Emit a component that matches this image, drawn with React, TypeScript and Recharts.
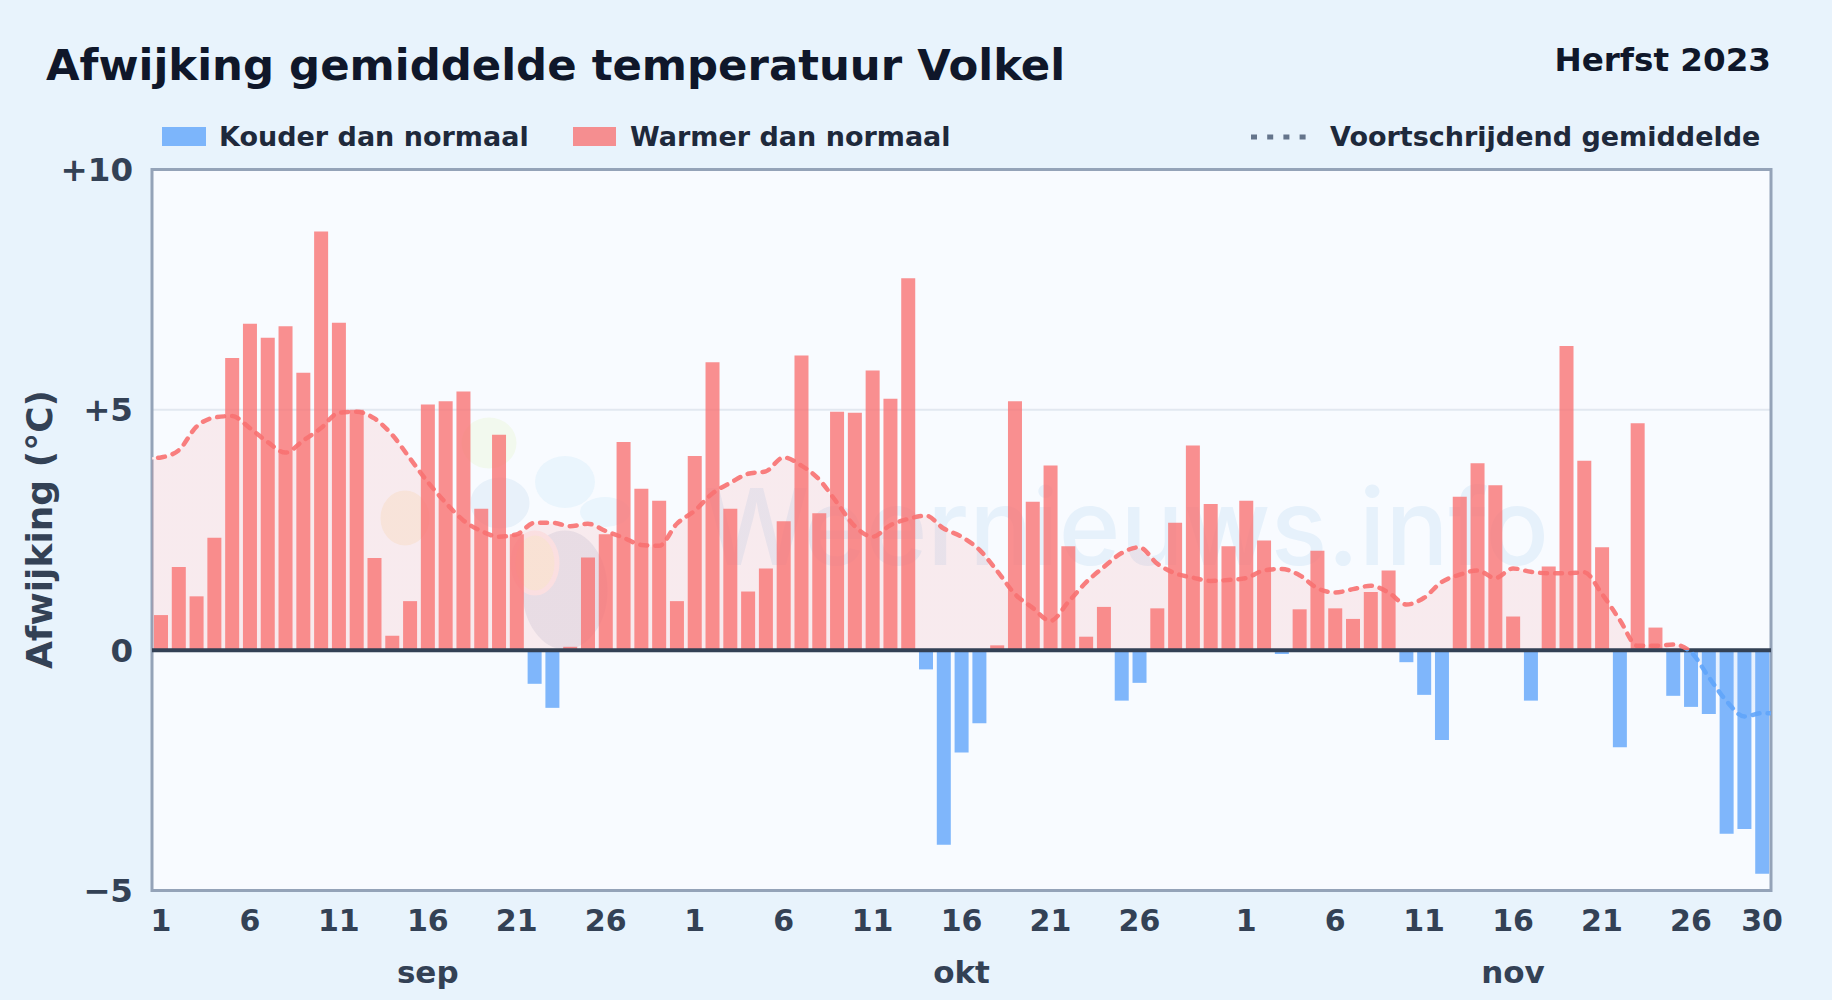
import { ComposedChart, Area, Bar, Line, XAxis, YAxis, CartesianGrid, ReferenceLine } from 'recharts';

const MONTHS = ['sep', 'okt', 'nov'];
const MONTH_LENGTHS = [30, 31, 30];

// afwijking per dag (°C)
const sepDeviation = [
  0.73, 1.73, 1.12, 2.34, 6.08, 6.79, 6.5, 6.74, 5.77, 8.71,
  6.81, 5.0, 1.92, 0.3, 1.02, 5.11, 5.18, 5.38, 2.94, 4.48,
  2.41, -0.7, -1.2, 0.07, 1.93, 2.41, 4.33, 3.36, 3.11, 1.02,
];
const oktDeviation = [
  4.04, 5.99, 2.94, 1.22, 1.7, 2.68, 6.13, 2.85, 4.96, 4.94,
  5.82, 5.23, 7.74, -0.4, -4.05, -2.13, -1.52, 0.1, 5.18, 3.09,
  3.84, 2.16, 0.28, 0.9, -1.05, -0.68, 0.87, 2.65, 4.26, 3.04, 2.16,
];
const novDeviation = [
  3.11, 2.28, -0.08, 0.85, 2.07, 0.87, 0.65, 1.21, 1.66, -0.25,
  -0.93, -1.87, 3.19, 3.89, 3.43, 0.7, -1.05, 1.74, 6.33, 3.94,
  2.14, -2.02, 4.72, 0.47, -0.95, -1.18, -1.33, -3.82, -3.72, -4.65,
];

// voortschrijdend gemiddelde
const sepAverage = [
  4.01, 4.16, 4.65, 4.84, 4.87, 4.62, 4.33, 4.11, 4.36, 4.62,
  4.94, 4.96, 4.82, 4.48, 3.99, 3.5, 3.07, 2.7, 2.48, 2.36,
  2.41, 2.65, 2.65, 2.58, 2.63, 2.48, 2.34, 2.19, 2.17, 2.63,
];
const oktAverage = [
  2.9, 3.26, 3.48, 3.67, 3.72, 4.01, 3.84, 3.55, 3.07, 2.58,
  2.36, 2.6, 2.73, 2.8, 2.53, 2.36, 2.09, 1.65, 1.17, 0.88,
  0.61, 1.0, 1.41, 1.73, 2.02, 2.14, 1.8, 1.6, 1.51, 1.44, 1.46,
];
const novAverage = [
  1.5, 1.66, 1.69, 1.56, 1.29, 1.2, 1.27, 1.34, 1.2, 0.95,
  1.09, 1.42, 1.57, 1.66, 1.5, 1.7, 1.63, 1.6, 1.6, 1.62,
  1.17, 0.63, 0.09, 0.09, 0.12, -0.04, -0.56, -1.06, -1.38, -1.31,
];
// de lijn loopt door tot de rand van het vlak
const averageBefore = 3.98;
const averageAfter = -1.31;

const deviations = [...sepDeviation, ...oktDeviation, ...novDeviation];
const averages = [...sepAverage, ...oktAverage, ...novAverage];

const yTicks = [-5, 0, 5, 10];
const dayTicks = [
  1, 6, 11, 16, 21, 26, 31, 36, 41, 46, 51, 56, 62, 67, 72, 77, 82, 87, 91,
];
const monthTicks = [16, 46, 77];

const dayLabel = (day: number) => {
  let rest = day;
  for (const length of MONTH_LENGTHS) {
    if (rest <= length) return String(rest);
    rest -= length;
  }
  return '';
};

const monthLabel = (day: number) => MONTHS[monthTicks.indexOf(day)] ?? '';
const valueLabel = (v: number) => (v > 0 ? `+${v}` : v < 0 ? `\u2212${Math.abs(v)}` : '0');

const rows: any[] = [
  { day: 0, warm: null, cold: null, average: averageBefore },
  ...deviations.map((d, i) => ({
    day: i + 1,
    warm: d >= 0 ? d : null,
    cold: d < 0 ? d : null,
    average: averages[i],
  })),
  { day: 92, warm: null, cold: null, average: averageAfter },
];

const maxAvg = Math.max(...averages);
const minAvg = Math.min(...averages);
const zeroOffset = maxAvg / (maxAvg - minAvg);

const RED = 'rgb(248,113,113)';
const BLUE = 'rgb(96,165,250)';
const FONT = '"DejaVu Sans", sans-serif';
const PLOT = { left: 152, top: 169.5, right: 1771, bottom: 890.5 };

const pageText = (left: number, top: number, size: number, color: string) => ({
  position: 'absolute' as const,
  left,
  top,
  fontSize: size,
  lineHeight: `${size}px`,
  fontWeight: 700,
  color,
  whiteSpace: 'nowrap' as const,
});

function Watermark() {
  const halo = { stroke: '#f8fbff', strokeWidth: 5 };
  return (
    <g>
      <ellipse cx={489} cy={443} rx={30} ry={28} fill="#f2f9ee" {...halo} />
      <ellipse cx={405} cy={518} rx={27} ry={30} fill="#f8f3e8" {...halo} />
      <ellipse cx={500} cy={503} rx={32} ry={28} fill="#e8f1fa" {...halo} />
      <ellipse cx={605} cy={512} rx={25} ry={15} fill="#eaf5fd" />
      <ellipse cx={565} cy={482} rx={30} ry={26} fill="#eaf5fd" />
      <ellipse cx={565} cy={590} rx={45} ry={62} fill="#e6ebf4" {...halo} />
      <ellipse cx={535} cy={563} rx={22} ry={30} fill="#f9f1e2" stroke="#fbeef0" strokeWidth={5} />
      <text
        x={704}
        y={565}
        fontFamily="Inter, sans-serif"
        fontSize={106}
        fontWeight={500}
        textLength={845}
        lengthAdjust="spacingAndGlyphs"
        fill="#e6f1fb"
      >
        Weernieuws.info
      </text>
    </g>
  );
}

function PlotFrame() {
  return (
    <rect
      x={PLOT.left}
      y={PLOT.top}
      width={PLOT.right - PLOT.left}
      height={PLOT.bottom - PLOT.top}
      fill="none"
      stroke="#94a3b8"
      strokeWidth={3}
    />
  );
}

export default function App() {
  return (
    <div
      style={{
        position: 'absolute',
        left: 0,
        top: 0,
        width: 1832,
        height: 1000,
        background: '#e8f3fc',
        fontFamily: FONT,
        overflow: 'hidden',
      }}
    >
      <div style={pageText(46, 44, 43.4, '#0f172a')}>Afwijking gemiddelde temperatuur Volkel</div>
      <div style={{ ...pageText(0, 44, 32.6, '#0f172a'), left: 'auto', right: 61 }}>Herfst 2023</div>

      <div style={{ position: 'absolute', left: 162, top: 127, width: 44, height: 19, background: BLUE, opacity: 0.8 }} />
      <div style={pageText(219, 123, 27, '#1e293b')}>Kouder dan normaal</div>
      <div style={{ position: 'absolute', left: 573, top: 127, width: 43, height: 19, background: RED, opacity: 0.78 }} />
      <div style={pageText(630, 123, 27, '#1e293b')}>Warmer dan normaal</div>
      <svg style={{ position: 'absolute', left: 1250, top: 130 }} width={60} height={14}>
        <line x1={1} y1={7} x2={58} y2={7} stroke="#64748b" strokeWidth={5} strokeDasharray="6 10.2" />
      </svg>
      <div style={pageText(1330, 123, 27, '#1e293b')}>Voortschrijdend gemiddelde</div>

      <ComposedChart
        width={1832}
        height={1000}
        data={rows}
        stackOffset="sign"
        margin={{ top: PLOT.top, right: 1832 - PLOT.right, left: 52, bottom: 0 }}
        style={{ position: 'absolute', left: 0, top: 0 }}
      >
        <defs>
          <linearGradient id="avgStroke" x1="0" y1="0" x2="0" y2="1">
            <stop offset={zeroOffset} stopColor={RED} />
            <stop offset={zeroOffset} stopColor={BLUE} />
          </linearGradient>
          <linearGradient id="avgFill" x1="0" y1="0" x2="0" y2="1">
            <stop offset={zeroOffset} stopColor={RED} stopOpacity={0.12} />
            <stop offset={zeroOffset} stopColor={BLUE} stopOpacity={0.12} />
          </linearGradient>
        </defs>
        <CartesianGrid vertical={false} fill="#f8fbff" stroke="#e2e8f0" strokeWidth={2} />
        <Watermark />
        <XAxis
          type="number"
          dataKey="day"
          domain={[0.5, 91.5]}
          allowDataOverflow
          ticks={dayTicks}
          tickFormatter={dayLabel}
          interval={0}
          height={60}
          axisLine={false}
          tickLine={false}
          tickMargin={13}
          tick={{ fill: '#334155', fontSize: 30, fontWeight: 700, fontFamily: FONT }}
        />
        <XAxis
          xAxisId="month"
          type="number"
          dataKey="day"
          domain={[0.5, 91.5]}
          allowDataOverflow
          ticks={monthTicks}
          tickFormatter={monthLabel}
          interval={0}
          height={49.5}
          axisLine={false}
          tickLine={false}
          tickMargin={4}
          tick={{ fill: '#334155', fontSize: 31, fontWeight: 700, fontFamily: FONT }}
        />
        <YAxis
          type="number"
          domain={[-5, 10]}
          ticks={yTicks}
          tickFormatter={valueLabel}
          width={100}
          interval={0}
          axisLine={false}
          tickLine={false}
          tickMargin={13}
          tick={{ fill: '#334155', fontSize: 32.5, fontWeight: 700, fontFamily: FONT }}
          label={{
            value: 'Afwijking (°C)',
            angle: -90,
            position: 'insideLeft',
            dx: -18,
            dy: 139,
            style: { fill: '#334155', fontSize: 36, fontWeight: 700, fontFamily: FONT },
          }}
        />
        <Area
          dataKey="average"
          type="monotone"
          stroke="#fdf3f4"
          strokeWidth={2}
          fill="url(#avgFill)"
          fillOpacity={1}
          dot={false}
          activeDot={false}
          isAnimationActive={false}
        />
        <Bar dataKey="warm" name="Warmer dan normaal" stackId="delta" barSize={14} fill={RED} fillOpacity={0.78} isAnimationActive={false} />
        <Bar dataKey="cold" name="Kouder dan normaal" stackId="delta" barSize={14} fill={BLUE} fillOpacity={0.8} isAnimationActive={false} />
        <ReferenceLine y={0} stroke="#334155" strokeWidth={4} />
        <Line
          dataKey="average"
          name="Voortschrijdend gemiddelde"
          type="monotone"
          stroke="url(#avgStroke)"
          strokeWidth={4.5}
          strokeDasharray="7 8"
          strokeLinecap="round"
          strokeOpacity={0.9}
          dot={false}
          activeDot={false}
          isAnimationActive={false}
        />
        <PlotFrame />
      </ComposedChart>
    </div>
  );
}
